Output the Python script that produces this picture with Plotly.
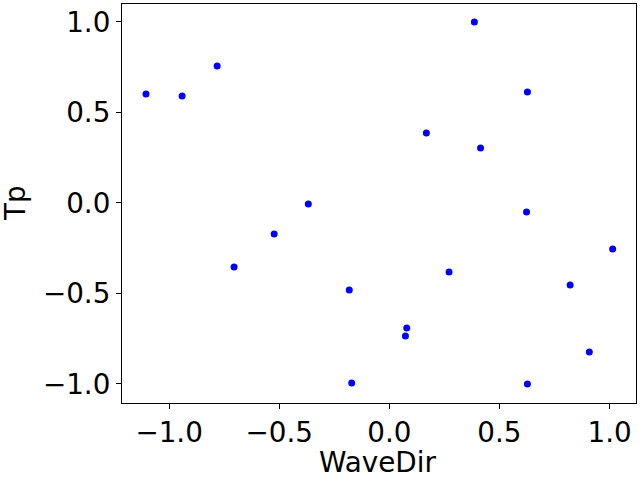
import plotly.graph_objects as go

# points
wave_dir = [-1.105, -0.941, -0.782, -0.705, -0.523, -0.368, -0.182, -0.171,
            0.386, 0.627, 0.168, 0.414, 0.623, 1.014, 0.271, 0.821,
            0.079, 0.073, 0.908, 0.627]
tp = [0.602, 0.591, 0.757, -0.354, -0.171, -0.006, -0.481, -0.994,
      1.0, 0.613, 0.387, 0.304, -0.050, -0.254, -0.381, -0.453,
      -0.691, -0.735, -0.823, -1.0]
ticks = [-1.0, -0.5, 0.0, 0.5, 1.0]

fig = go.Figure(go.Scatter(
    x=wave_dir, y=tp, mode="markers",
    marker=dict(size=7, color="blue", line=dict(width=0)),
    showlegend=False,
))

axis_style = dict(
    showline=True, linecolor="black", linewidth=1.1, mirror=True,
    ticks="outside", ticklen=5, tickwidth=1.1, tickcolor="black",
    showgrid=False, zeroline=False, tickvals=ticks, tickformat=".1f",
    tickfont=dict(size=27.8, color="black"), automargin=False,
)

fig.update_layout(
    width=640, height=480,
    margin=dict(l=122, r=4, t=4, b=77),
    plot_bgcolor="white", paper_bgcolor="white",
    font=dict(family="DejaVu Sans", size=27.8, color="black"),
    xaxis=dict(range=[-1.214, 1.12], **axis_style),
    yaxis=dict(range=[-1.105, 1.099], **axis_style),
)

# axis titles placed like matplotlib's
fig.add_annotation(text="WaveDir", xref="paper", yref="paper", x=0.498, y=-0.15,
                   xanchor="center", yanchor="middle", showarrow=False)
fig.add_annotation(text="Tp", xref="paper", yref="paper", x=-0.207, y=0.5,
                   xanchor="center", yanchor="middle", textangle=-90, showarrow=False)

# drop the page's default body margin so the figure sits at the window corner
fig.write_html("out.html", config={"displayModeBar": False},
               post_script="document.body.style.margin='0';")
